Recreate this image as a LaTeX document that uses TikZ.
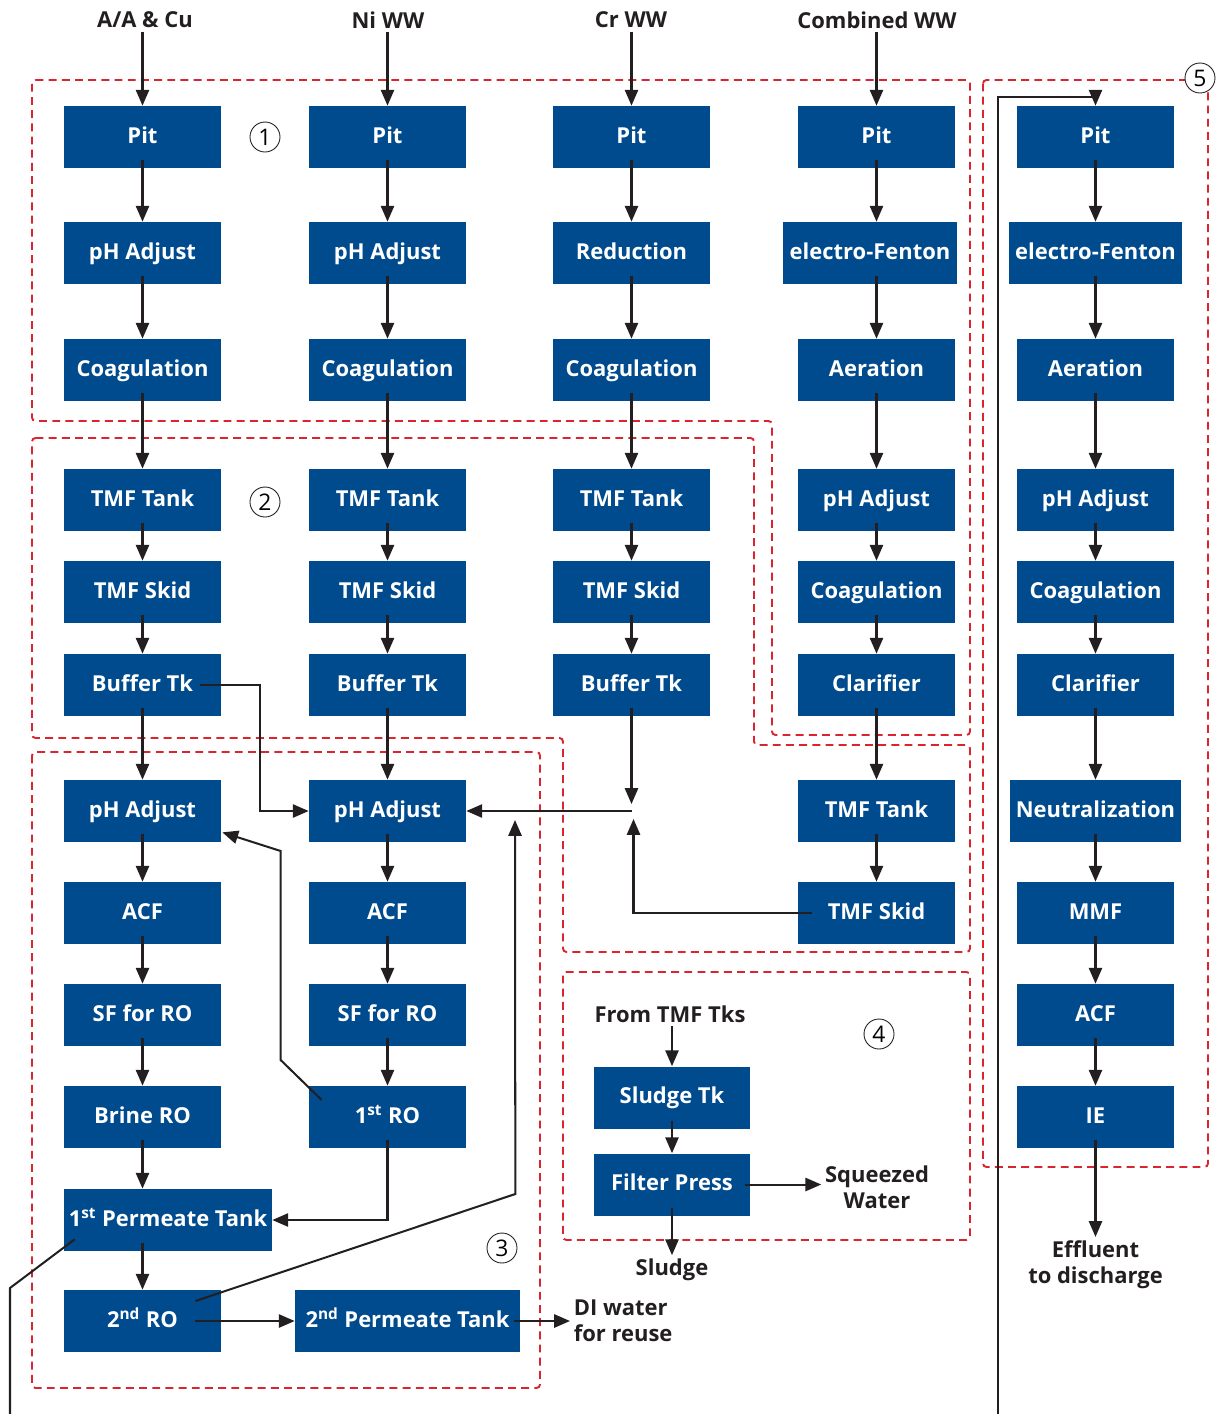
\documentclass[tikz,border=0pt]{standalone}
\usepackage{fontspec}
\setmainfont{Open Sans}
\usetikzlibrary{arrows.meta,calc}
\definecolor{boxblue}{HTML}{004A8E}
\definecolor{zonered}{HTML}{D9262E}
\definecolor{ink}{HTML}{231F20}

\begin{document}
\begin{tikzpicture}[x=0.02cm,y=-0.02cm,
    unit/.style={fill=boxblue, text=white, font=\bfseries\fontsize{12.5}{15}\selectfont,
        minimum width=3.14cm, minimum height=1.24cm, inner sep=0pt,
        text height=0.72em, text depth=0pt},
    wide/.style={unit, minimum width=#1},
    lbl/.style={text=ink, font=\bfseries\fontsize{12.5}{15}\selectfont, align=center, inner sep=2pt},
    num/.style={draw=ink, fill=white, circle, line width=0.5pt, minimum size=0.6cm, inner sep=0pt,
        font=\fontsize{13}{13}\selectfont},
    flow/.style={draw=ink, line width=1.15pt, -{Triangle[length=9pt,width=7.5pt]}},
    pipe/.style={draw=ink, line width=1.15pt},
    zone/.style={draw=zonered, line width=1.1pt, dash pattern=on 4.5pt off 3pt, rounded corners=2pt}]
    \useasboundingbox (0,0) rectangle (1224,1414);

    % Dashed process zones
    \draw[zone] (32,80) -- (970,80) -- (970,735) -- (772,735) -- (772,421) -- (32,421) -- cycle;
    \draw[zone] (32,438) -- (754,438) -- (754,745) -- (970,745) -- (970,952) -- (563,952) -- (563,738) -- (32,738) -- cycle;
    \draw[zone] (32,752) rectangle (540,1388);
    \draw[zone] (563,972) rectangle (970,1240);
    \draw[zone] (983,80) rectangle (1208,1167);

    % Sources
    \node[lbl] (srcA) at (145,20) {A/A \& Cu};
    \node[lbl] (srcN) at (388,20) {Ni WW};
    \node[lbl] (srcC) at (631,20) {Cr WW};
    \node[lbl] (srcW) at (877,20) {Combined WW};

    % A/A & Cu line
    \node[unit] (pitA) at (142.5,137) {Pit};
    \node[unit] (phA) at (142.5,253) {pH Adjust};
    \node[unit] (coagA) at (142.5,370) {Coagulation};
    \node[unit] (tankA) at (142.5,500) {TMF Tank};
    \node[unit] (skidA) at (142.5,592) {TMF Skid};
    \node[unit] (bufA) at (142.5,685) {Buffer Tk};
    \node[unit] (ph2A) at (142.5,811) {pH Adjust};
    \node[unit] (acfA) at (142.5,913) {ACF};
    \node[unit] (sfA) at (142.5,1015) {SF for RO};
    \node[unit] (brineA) at (142.5,1117) {Brine RO};
    \node[wide=4.16cm] (perm1) at (168,1220) {1\textsuperscript{st} Permeate Tank};
    \node[unit] (ro2) at (142.5,1321) {2\textsuperscript{nd} RO};
    \node[wide=4.5cm] (perm2) at (407.5,1321) {2\textsuperscript{nd} Permeate Tank};

    % Ni line
    \node[unit] (pitN) at (387.5,137) {Pit};
    \node[unit] (phN) at (387.5,253) {pH Adjust};
    \node[unit] (coagN) at (387.5,370) {Coagulation};
    \node[unit] (tankN) at (387.5,500) {TMF Tank};
    \node[unit] (skidN) at (387.5,592) {TMF Skid};
    \node[unit] (bufN) at (387.5,685) {Buffer Tk};
    \node[unit] (ph2N) at (387.5,811) {pH Adjust};
    \node[unit] (acfN) at (387.5,913) {ACF};
    \node[unit] (sfN) at (387.5,1015) {SF for RO};
    \node[unit] (ro1) at (387.5,1117) {1\textsuperscript{st} RO};

    % Cr line
    \node[unit] (pitC) at (631.5,137) {Pit};
    \node[unit] (redC) at (631.5,253) {Reduction};
    \node[unit] (coagC) at (631.5,370) {Coagulation};
    \node[unit] (tankC) at (631.5,500) {TMF Tank};
    \node[unit] (skidC) at (631.5,592) {TMF Skid};
    \node[unit] (bufC) at (631.5,685) {Buffer Tk};

    % Combined line
    \node[unit] (pitW) at (876.5,137) {Pit};
    \node[wide=3.48cm] (efW) at (870,253) {electro-Fenton};
    \node[unit] (aerW) at (876.5,370) {Aeration};
    \node[unit] (phW) at (876.5,500) {pH Adjust};
    \node[unit] (coagW) at (876.5,592) {Coagulation};
    \node[unit] (clarW) at (876.5,685) {Clarifier};
    \node[unit] (tankW) at (876.5,811) {TMF Tank};
    \node[unit] (skidW) at (876.5,913) {TMF Skid};

    % Effluent line
    \node[unit] (pitE) at (1095.5,137) {Pit};
    \node[wide=3.48cm] (efE) at (1095.5,253) {electro-Fenton};
    \node[unit] (aerE) at (1095.5,370) {Aeration};
    \node[unit] (phE) at (1095.5,500) {pH Adjust};
    \node[unit] (coagE) at (1095.5,592) {Coagulation};
    \node[unit] (clarE) at (1095.5,685) {Clarifier};
    \node[wide=3.44cm] (neuE) at (1095.5,811) {Neutralization};
    \node[unit] (mmfE) at (1095.5,913) {MMF};
    \node[unit] (acfE) at (1095.5,1015) {ACF};
    \node[unit] (ieE) at (1095.5,1117) {IE};

    % Sludge
    \node[lbl] (fromtmf) at (670,1014) {From TMF Tks};
    \node[unit] (sludgetk) at (672,1097.5) {Sludge Tk};
    \node[unit] (press) at (672,1184.5) {Filter Press};

    % Outlets
    \node[lbl] (sludge) at (672,1270) {Sludge};
    \node[lbl] (squeeze) at (877,1187) {Squeezed\\Water};
    \node[lbl, align=left, anchor=west] (di) at (570,1321) {DI water\\for reuse};
    \node[lbl] (effl) at (1095.5,1265) {Effluent\\to discharge};

    % Zone numbers
    \node[num] (z1) at (265,137) {1};
    \node[num] (z2) at (265,502) {2};
    \node[num] (z3) at (502,1248) {3};
    \node[num] (z4) at (879,1034) {4};
    \node[num] (z5) at (1200,78) {5};

    % Feed arrows
    \foreach \s/\p in {srcA/pitA, srcN/pitN, srcC/pitC, srcW/pitW}
        \draw[flow] (\s.south -| \p.north) -- (\p.north);

    % Vertical chains
    \foreach \a/\b in {pitA/phA, phA/coagA, coagA/tankA, tankA/skidA, skidA/bufA, bufA/ph2A,
            ph2A/acfA, acfA/sfA, sfA/brineA, brineA/perm1,
            pitN/phN, phN/coagN, coagN/tankN, tankN/skidN, skidN/bufN, bufN/ph2N,
            ph2N/acfN, acfN/sfN, sfN/ro1,
            pitC/redC, redC/coagC, coagC/tankC, tankC/skidC, skidC/bufC,
            pitW/efW, aerW/phW, phW/coagW, coagW/clarW, clarW/tankW, tankW/skidW,
            pitE/efE, efE/aerE, aerE/phE, phE/coagE, coagE/clarE, clarE/neuE,
            neuE/mmfE, mmfE/acfE, acfE/ieE, sludgetk/press}
        \draw[flow] ([yshift=4.5pt]\a.south) -- (\a.south |- \b.north);
    \draw[flow] ([yshift=4.5pt]efW.south -| aerW.north) -- (aerW.north);
    \draw[flow] ([yshift=4.5pt]perm1.south -| ro2.north) -- (ro2.north);
    \draw[flow] (fromtmf.south -| sludgetk.north) -- (sludgetk.north);
    \draw[flow] ([yshift=4.5pt]press.south) -- (sludge.north);
    \draw[flow] ([yshift=4.5pt]ieE.south) -- (effl.north);

    % Cross connections
    \coordinate (jC) at (631.5,811);
    \draw[flow] ($(bufA.east)+(-21,0)$) -- ++(60,0) |- (ph2N.west);
    \draw[flow] ([yshift=4.5pt]bufC.south) -- ($(jC)+(0,-7)$);
    \draw[flow] (jC) -- (ph2N.east);
    \draw[flow] ($(skidW.west)+(14,0)$) -| ($(jC)+(2,8)$);
    \draw[flow] ($(ro1.west)+(13,-17)$) -- ++(-41,-40) -- ++(0,-209) -- ($(ph2A.south east)+(1,-10)$);
    \draw[flow] ([yshift=4.5pt]ro1.south) |- (perm1.east);
    \coordinate (tipR) at (515,820);
    \draw[flow] ($(ro2.east)+(-26,-20)$) -- ++(320,-107) -- (tipR);
    \draw[flow] ($(ro2.east)+(-26,0)$) -- (perm2.west);
    \draw[flow] ($(perm2.east)+(-6,0)$) -- (di.west);
    \draw[flow] ($(press.east)+(-6,0)$) -- (squeeze.west |- press.east);

    % Recycle line to effluent pit
    \coordinate (outL) at (10,1414);
    \coordinate (outR) at (998,1414);
    \draw[pipe] ($(perm1.south west)+(11,-12)$) -- (10,1288) -- (outL);
    \draw[flow] (outR) -- (998,97) -| (pitE.north);
\end{tikzpicture}
\end{document}
